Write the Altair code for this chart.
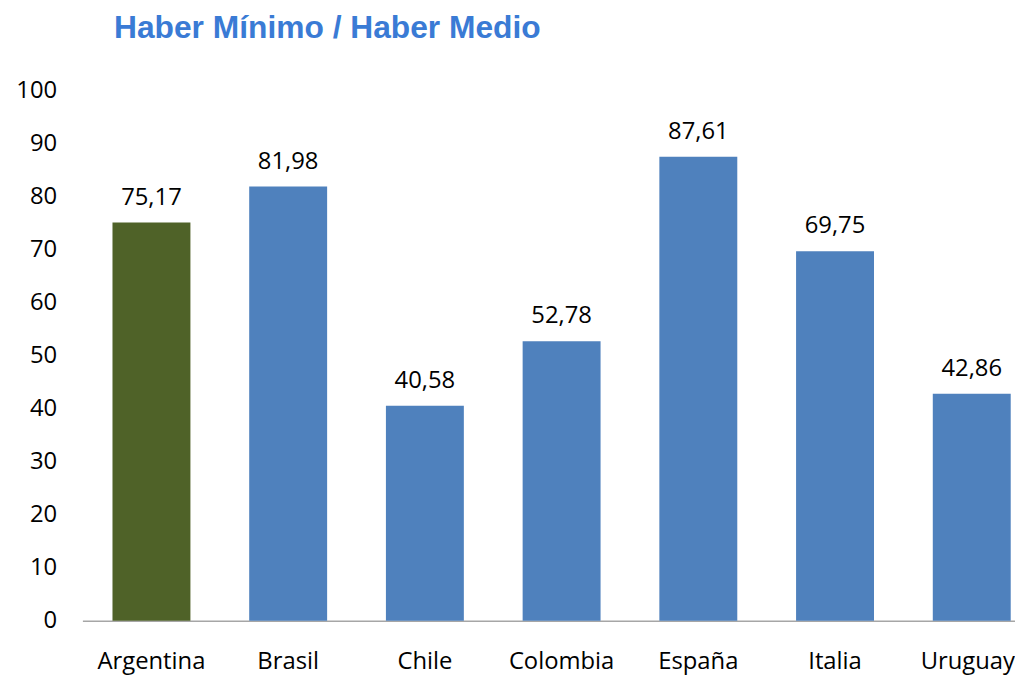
import altair as alt
import pandas as pd

countries = ["Argentina", "Brasil", "Chile", "Colombia", "España", "Italia", "Uruguay"]
values = [75.17, 81.98, 40.58, 52.78, 87.61, 69.75, 42.86]
highlight = ["Argentina"]

df = pd.DataFrame({"pais": countries, "valor": values})
df["grupo"] = ["hl" if c in highlight else "base" for c in countries]

FONT = "Open Sans"

x = alt.X("pais:N", sort=countries, title=None,
          scale=alt.Scale(range=[0, 966], paddingInner=0.43, paddingOuter=0.22),
          axis=alt.Axis(labelAngle=0, ticks=False, domainColor="#a6a6a6", domainWidth=1.5,
                        labelFont=FONT, labelFontSize=24, labelColor="#000000",
                        labelPadding=29,
                        labelOffset={"condition": {"test": "datum.value === 'Uruguay'", "value": -4},
                                     "value": 0}))
y = alt.Y("valor:Q", title=None,
          scale=alt.Scale(domain=[0, 100], nice=False),
          axis=alt.Axis(values=list(range(0, 101, 10)), grid=False, ticks=False, domain=False,
                        labelFont=FONT, labelFontSize=24, labelColor="#000000",
                        labelPadding=26))

bars = alt.Chart(df).mark_bar().encode(
    x=x, y=y,
    color=alt.Color("grupo:N", scale=alt.Scale(domain=["hl", "base"], range=["#4f6228", "#4f81bd"]),
                    legend=None),
)

labels = alt.Chart(df).transform_calculate(
    txt="replace(format(datum.valor, '.2f'), '.', ',')"
).mark_text(font=FONT, fontSize=24, color="#000000", baseline="bottom", dy=-13).encode(
    x=alt.X("pais:N", sort=countries), y="valor:Q", text="txt:N"
)

chart = (bars + labels).properties(
    width=940, height=534,
    autosize=alt.AutoSizeParams(type="none"),
    padding={"left": 75, "top": 81, "right": 0, "bottom": 55},
    title=alt.TitleParams("Haber Mínimo / Haber Medio", anchor="start", font="Liberation Sans",
                          fontSize=32, fontWeight="bold", color="#3a7bd5", dx=99, offset=34),
).configure_view(stroke=None)

chart.save("out.html", embed_options={"renderer": "svg", "actions": False})
